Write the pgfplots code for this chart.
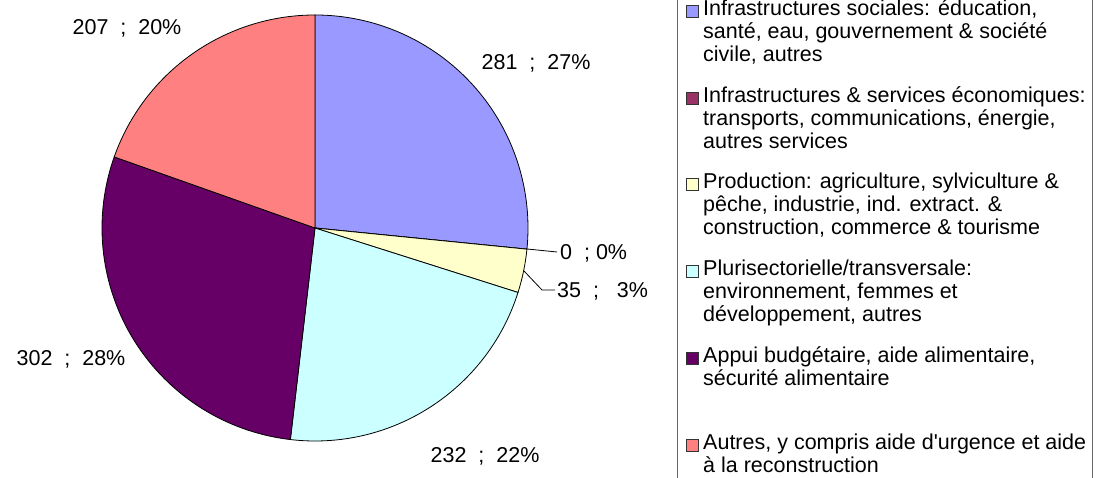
\documentclass[border=0pt]{standalone}
\usepackage{pgfplots}
\pgfplotsset{compat=1.18}
\usepackage{pgfplotstable}
\usepackage{fontspec}
\setmainfont{Liberation Sans}

\definecolor{cSoc}{HTML}{9999FF}
\definecolor{cEco}{HTML}{993366}
\definecolor{cProd}{HTML}{FFFFCC}
\definecolor{cPlur}{HTML}{CCFFFF}
\definecolor{cAppui}{HTML}{660066}
\definecolor{cAutres}{HTML}{FF8080}

% montants par secteur (ordre du camembert, sens horaire depuis 12h)
\pgfplotstableread{
val col
281 cSoc
0   cEco
35  cProd
232 cPlur
302 cAppui
207 cAutres
}\piedata

% angles des parts
\def\total{0}
\pgfplotsforeachungrouped \i in {0,...,5}{%
  \pgfplotstablegetelem{\i}{val}\of\piedata
  \pgfmathsetmacro{\total}{\total+\pgfplotsretval}%
}
\def\cum{0}
\pgfplotsforeachungrouped \i in {0,...,5}{%
  \pgfplotstablegetelem{\i}{val}\of\piedata
  \pgfmathsetmacro{\angA}{90-\cum/\total*360}%
  \pgfmathsetmacro{\cum}{\cum+\pgfplotsretval}%
  \pgfmathsetmacro{\angB}{90-\cum/\total*360}%
  \expandafter\xdef\csname sa\i\endcsname{\angA}%
  \expandafter\xdef\csname sb\i\endcsname{\angB}%
  \pgfplotstablegetelem{\i}{col}\of\piedata
  \expandafter\xdef\csname sc\i\endcsname{\pgfplotsretval}%
}

\newcommand\lf{\fontsize{21.5}{23.3}\selectfont}
% legende: couleur, y du centre de la 1re ligne, lignes
\newcommand\legsq[2]{%
  \filldraw[fill=#1,draw=black!80,line width=0.8pt]
    (axis cs:686,#2-7) rectangle (axis cs:698,#2+5);}
\newcommand\legln[2]{%
  \node[anchor=mid west,inner sep=0,font=\lf] at (axis cs:703,#1-3) {#2};}

\begin{document}
\begin{tikzpicture}
\begin{axis}[
  scale only axis,width=1101pt,height=478pt,
  xmin=0,xmax=1101,ymin=0,ymax=478,
  hide axis,clip=true]
  \path (axis cs:0,0) rectangle (axis cs:1101,478);
  % parts
  \pgfplotsinvokeforeach{0,...,5}{
    \filldraw[draw=black,line width=0.8pt,fill=\csname sc#1\endcsname]
      (axis cs:315,250) -- ++(\csname sa#1\endcsname:213pt)
      arc[start angle=\csname sa#1\endcsname,end angle=\csname sb#1\endcsname,radius=213pt]
      -- cycle;
  }
  % etiquettes
  \node[anchor=mid,font=\lf] at (axis cs:536,411) {281\ \ ;\ \ 27\%};
  \node[anchor=mid west,font=\lf,inner sep=0] at (axis cs:560,221) {0\ \ ; 0\%};
  \node[anchor=mid west,font=\lf,inner sep=0] at (axis cs:557,183) {35\ \ ;\ \ \ 3\%};
  \node[anchor=mid,font=\lf] at (axis cs:485,18) {232\ \ ;\ \ 22\%};
  \node[anchor=mid,font=\lf] at (axis cs:71,115) {302\ \ ;\ \ 28\%};
  \node[anchor=mid,font=\lf] at (axis cs:127,446) {207\ \ ;\ \ 20\%};
  \draw[line width=0.8pt] (axis cs:527,229) -- (axis cs:557,226);
  \draw[line width=0.8pt] (axis cs:524,207) -- (axis cs:542,188) -- (axis cs:555,188);
  % cadre de la legende (coupe par l'image)
  \draw[black!60,line width=1pt] (axis cs:677,-5) -- (axis cs:677,483);
  \draw[black!60,line width=1pt] (axis cs:1092,-5) -- (axis cs:1092,483);
  % legende
  \legsq{cSoc}{468}
  \legln{468}{Infrastructures sociales: éducation,}
  \legln{445}{santé, eau, gouvernement \& société}
  \legln{422}{civile, autres}
  \legsq{cEco}{381}
  \legln{381}{Infrastructures \& services économiques:}
  \legln{358}{transports, communications, énergie,}
  \legln{335}{autres services}
  \legsq{cProd}{295}
  \legln{295}{Production: agriculture, sylviculture \&}
  \legln{272}{pêche, industrie, ind. extract. \&}
  \legln{249}{construction, commerce \& tourisme}
  \legsq{cPlur}{208}
  \legln{208}{Plurisectorielle/transversale:}
  \legln{185}{environnement, femmes et}
  \legln{162}{développement, autres}
  \legsq{cAppui}{121}
  \legln{121}{Appui budgétaire, aide alimentaire,}
  \legln{98}{sécurité alimentaire}
  \legsq{cAutres}{34}
  \legln{34}{Autres, y compris aide d\textquotesingle urgence et aide}
  \legln{11}{à la reconstruction}
\end{axis}
\end{tikzpicture}
\end{document}
